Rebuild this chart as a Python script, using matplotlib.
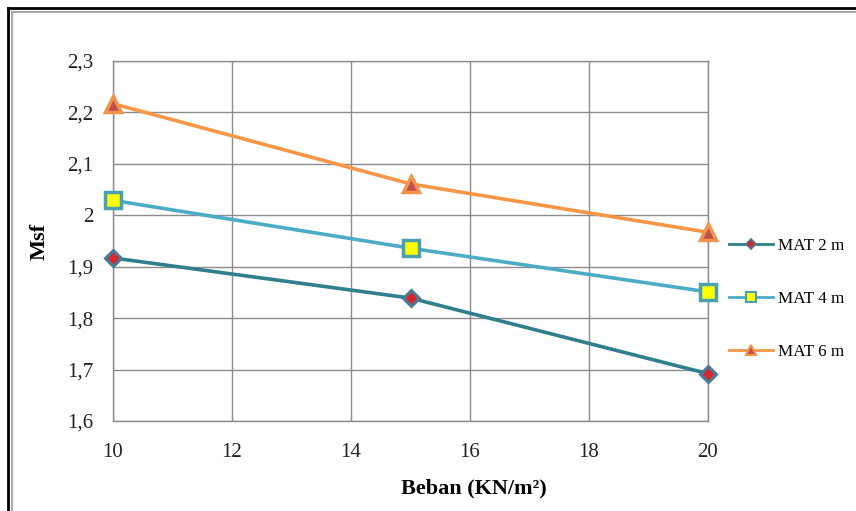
import matplotlib
matplotlib.use("Agg")
import matplotlib.pyplot as plt
from matplotlib.lines import Line2D
from matplotlib.ticker import FuncFormatter

# Load (KN/m²) and safety factor for each mat thickness
beban = [10, 15, 20]
msf_mat2 = [1.917, 1.839, 1.692]
msf_mat4 = [2.029, 1.936, 1.851]
msf_mat6 = [2.217, 2.061, 1.967]
series_labels = ["MAT 2 m", "MAT 4 m", "MAT 6 m"]
x_ticks = [10, 12, 14, 16, 18, 20]
y_ticks = [1.6, 1.7, 1.8, 1.9, 2.0, 2.1, 2.2, 2.3]

plt.rcParams["font.family"] = ["Liberation Serif", "DejaVu Serif"]

fig = plt.figure(figsize=(8.56, 5.11), dpi=100)
ax = fig.add_axes([113/856, 1 - 421/511, (708 - 113)/856, (421 - 61)/511])

ax.plot(beban, msf_mat2, color="#2F7F8C", lw=2.6, marker="D", ms=8,
        mfc="#D9262B", mec="#4A7A9A", mew=2.2, label=series_labels[0], zorder=5, clip_on=False)
ax.plot(beban, msf_mat4, color="#4BACC6", lw=2.6, marker="s", ms=11,
        mfc="#FFFF00", mec="#4A9FB0", mew=2.5, label=series_labels[1], zorder=5, clip_on=False)
ax.plot(beban, msf_mat6, color="#F79646", lw=2.6, marker="^", ms=11,
        mfc="#C0504D", mec="#F3924A", mew=2.5, label=series_labels[2], zorder=5, clip_on=False)

ax.set_xlim(10, 20)
ax.set_ylim(1.6, 2.3)
ax.set_xticks(x_ticks)
ax.set_yticks(y_ticks)
ax.yaxis.set_major_formatter(FuncFormatter(lambda v, p: f"{v:g}".replace(".", ",")))
ax.grid(True, color="#8C8C8C", lw=1.0)
ax.set_axisbelow(True)
for side, sp in ax.spines.items():
    sp.set_color("#8C8C8C")
    sp.set_linewidth(1.0)
ax.tick_params(length=0, labelsize=15, colors="#222222")
ax.tick_params(axis="x", pad=16)
ax.tick_params(axis="y", pad=14)

ax.set_xlabel("Beban (KN/m²)", fontsize=16, fontweight="bold")
ax.xaxis.set_label_coords((474 - 113)/595, -(488 - 421)/360, transform=ax.transAxes)
ax.xaxis.label.set_va("center")
ax.set_ylabel("Msf", fontsize=16, fontweight="bold")
ax.yaxis.set_label_coords(-(113 - 40)/595, 0.5, transform=ax.transAxes)
ax.yaxis.label.set_va("center")

handles = [
    Line2D([], [], color="#2F7F8C", lw=2, marker="D", ms=5, mfc="#D9262B", mec="#4A7A9A", mew=1.2),
    Line2D([], [], color="#4BACC6", lw=2, marker="s", ms=7, mfc="#FFFF00", mec="#4A9FB0", mew=1.5),
    Line2D([], [], color="#F79646", lw=2, marker="^", ms=7, mfc="#C0504D", mec="#F3924A", mew=1.5),
]
fig.legend(handles, series_labels, loc="center left", bbox_to_anchor=(729/856, 1 - 299/511),
           frameon=False, fontsize=12.3, labelspacing=2.15, handlelength=2.6,
           handletextpad=0.25, borderpad=0, borderaxespad=0)

# Frame around the chart
fig.add_artist(Line2D([8/856, 8/856], [0, 1 - 8/511], color="black", lw=2, transform=fig.transFigure))
fig.add_artist(Line2D([8/856, 1], [1 - 8/511, 1 - 8/511], color="black", lw=2, transform=fig.transFigure))
fig.add_artist(Line2D([12/856, 12/856], [0, 1 - 12/511], color="#AAAAAA", lw=1.5, transform=fig.transFigure))
fig.add_artist(Line2D([12/856, 1], [1 - 12/511, 1 - 12/511], color="#AAAAAA", lw=1.5, transform=fig.transFigure))

fig.savefig("out.png", dpi=100)
